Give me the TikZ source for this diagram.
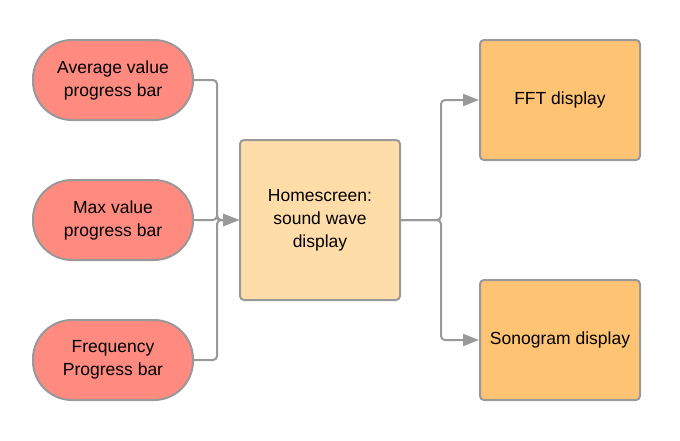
\documentclass[tikz,border=0pt]{standalone}
\usepackage{fontspec}
\setmainfont{Liberation Sans}
\usetikzlibrary{arrows.meta}
\definecolor{linegray}{HTML}{999999}
\definecolor{pillred}{HTML}{FF8A80}
\definecolor{homefill}{HTML}{FFDDA9}
\definecolor{dispfill}{HTML}{FFC374}
\tikzset{
  pill/.style={rectangle,rounded corners=39pt,draw=linegray,line width=2pt,fill=pillred,minimum width=160pt,minimum height=80pt,align=center},
  homebox/.style={rectangle,rounded corners=4pt,draw=linegray,line width=2pt,fill=homefill,minimum width=160pt,minimum height=160pt,align=center},
  dispbox/.style={rectangle,rounded corners=4pt,draw=linegray,line width=2pt,fill=dispfill,minimum width=160pt,minimum height=120pt,align=center},
  link/.style={draw=linegray,line width=2pt,rounded corners=4pt}
}
\begin{document}
\begin{tikzpicture}[x=1pt,y=-1pt,>={Triangle[length=16pt,width=12pt]},font=\fontsize{17.5}{23}\selectfont]
\useasboundingbox (0,0) rectangle (680,440);
\node[pill] (avg) at (113,80) {Average value\\progress bar};
\node[pill] (max) at (113,220) {Max value\\progress bar};
\node[pill] (freq) at (113,360) {Frequency\\Progress bar};
\node[homebox] (home) at (320,220) {Homescreen:\\sound wave\\display};
\node[dispbox] (fft) at (560,100) {FFT display};
\node[dispbox] (sono) at (560,340) {Sonogram display};

\foreach \n in {avg,max,freq}
{
    \draw[link,->,linegray] (\n.east) -- ++(23,0) |- (home.west);
}
\draw[link,->,linegray] (home.east) -- ++(40,0) |- (fft.west);
\draw[link,->,linegray] (home.east) -- ++(40,0) |- (sono.west);

\end{tikzpicture}
\end{document}
